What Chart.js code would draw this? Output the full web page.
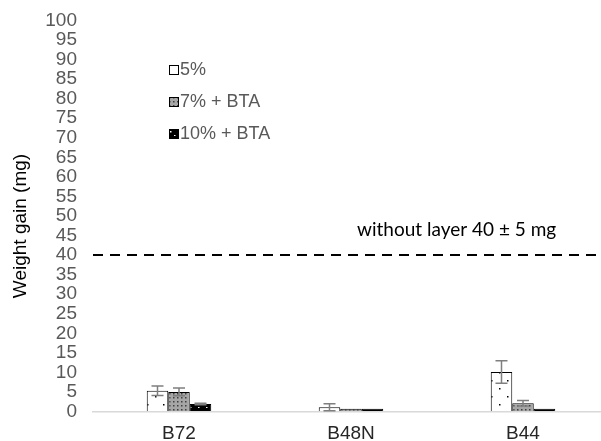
<!DOCTYPE html>
<html>
<head>
<meta charset="utf-8">
<script src="https://cdn.jsdelivr.net/npm/chart.js@4"></script>
<style>
  html, body { margin: 0; padding: 0; background: #fff; overflow: hidden; }
  #wrap { width: 601px; height: 441px; overflow: hidden; }
</style>
</head>
<body>
<!-- plot area runs a few px past the right edge in the original, so the canvas is a bit wider and clipped -->
<div id="wrap"><canvas id="myChart" width="609" height="441"></canvas></div>
<script>
const categories = ['B72', 'B48N', 'B44'];
const seriesNames = ['5%', '7% + BTA', '10% + BTA'];
const gain5 = [5.3, 1.1, 10.1];
const gain7 = [5.0, 0.7, 2.1];
const gain10 = [1.9, 0.7, 0.7];
const err5 = [1.2, 0.9, 2.9];
const err7 = [1.0, 0, 0.7];
const err10 = [0.2, 0, 0];
const referenceValue = 40;
const referenceLabel = 'without layer 40 \u00b1 5 mg';
const yTitle = 'Weight gain (mg)';

// small fill patterns like the original hatches
function makePattern(bg, dot, step, offsets) {
    const c = document.createElement('canvas');
    c.width = step; c.height = step;
    const g = c.getContext('2d');
    g.fillStyle = bg;
    g.fillRect(0, 0, step, step);
    g.fillStyle = dot;
    offsets.forEach(o => g.fillRect(o[0], o[1], 1.5, 1.5));
    return g.createPattern(c, 'repeat');
}
const pat5 = makePattern('#ffffff', '#000000', 16, [[3, 4], [11, 12]]);
const pat7 = makePattern('#a6a6a6', '#404040', 4, [[1, 1]]);
const pat10 = makePattern('#000000', '#ffffff', 8, [[2, 3], [6, 7]]);

const errors = [err5, err7, err10];

const errorBars = {
    id: 'errorBars',
    afterDatasetsDraw(chart) {
        const c = chart.ctx;
        const y = chart.scales.y;
        c.save();
        c.strokeStyle = '#7f7f7f';
        c.lineWidth = 1.5;
        chart.data.datasets.forEach((ds, i) => {
            const meta = chart.getDatasetMeta(i);
            meta.data.forEach((bar, j) => {
                const e = errors[i][j];
                if (!e) return;
                const v = ds.data[j];
                const top = y.getPixelForValue(v + e);
                const bot = y.getPixelForValue(v - e);
                c.beginPath();
                c.moveTo(bar.x, top); c.lineTo(bar.x, bot);
                c.moveTo(bar.x - 6, top); c.lineTo(bar.x + 6, top);
                c.moveTo(bar.x - 6, bot); c.lineTo(bar.x + 6, bot);
                c.stroke();
            });
        });
        c.restore();
    }
};

const referenceLine = {
    id: 'referenceLine',
    afterDatasetsDraw(chart) {
        const c = chart.ctx;
        const a = chart.chartArea;
        const yp = chart.scales.y.getPixelForValue(referenceValue);
        c.save();
        c.strokeStyle = '#000000';
        c.lineWidth = 2;
        c.setLineDash([10, 7]);
        c.beginPath();
        c.moveTo(a.left, yp);
        c.lineTo(a.right, yp);
        c.stroke();
        c.setLineDash([]);
        c.fillStyle = '#000000';
        c.font = '19px Lato, sans-serif';
        c.textBaseline = 'middle';
        c.fillText(referenceLabel, 357, yp - 25);
        c.restore();
    }
};

// legend + rotated axis title (title sits a bit below the plot middle in the original)
const extras = {
    id: 'extras',
    afterDraw(chart) {
        const c = chart.ctx;
        const pats = [pat5, pat7, pat10];
        c.save();
        c.font = '18px "Liberation Sans", Arial, sans-serif';
        c.textBaseline = 'middle';
        seriesNames.forEach((name, i) => {
            const yy = 70 + i * 32;
            c.fillStyle = pats[i];
            c.fillRect(169, yy - 4.5, 9, 9);
            c.strokeStyle = '#000000';
            c.lineWidth = 1;
            c.strokeRect(169.5, yy - 4.5, 9, 9);
            c.fillStyle = '#595959';
            c.fillText(name, 180, yy);
        });
        c.translate(21, 226);
        c.rotate(-Math.PI / 2);
        c.textAlign = 'center';
        c.fillStyle = '#000000';
        c.font = '19px "Liberation Sans", Arial, sans-serif';
        c.fillText(yTitle, 0, 0);
        c.restore();
    }
};

const ctx = document.querySelector('#myChart');
const myChart = new Chart(ctx, {
    type: 'bar',
    data: {
        labels: categories,
        datasets: [
            { label: seriesNames[0], data: gain5, backgroundColor: pat5, borderColor: '#000000', borderWidth: 1 },
            { label: seriesNames[1], data: gain7, backgroundColor: pat7, borderColor: '#000000', borderWidth: 1 },
            { label: seriesNames[2], data: gain10, backgroundColor: pat10, borderColor: '#000000', borderWidth: 1 }
        ]
    },
    options: {
        responsive: false,
        animation: false,
        layout: { padding: { top: 0, right: 0, left: 4, bottom: -15.6 } },
        plugins: {
            legend: { display: false },
            tooltip: { enabled: false }
        },
        datasets: {
            bar: { categoryPercentage: 0.375, barPercentage: 1 }
        },
        scales: {
            x: {
                grid: { display: false, drawTicks: false },
                border: { color: '#d9d9d9', width: 1.5 },
                ticks: {
                    color: '#262626',
                    padding: 14,
                    font: { family: '"Liberation Sans", Arial, sans-serif', size: 19, lineHeight: 0.9 }
                }
            },
            y: {
                min: 0,
                max: 100,
                grid: { display: true, drawOnChartArea: false, drawTicks: true, tickLength: 7, color: 'rgba(0,0,0,0)' },
                border: { display: false },
                afterFit: function (scale) { scale.width = 89; },
                ticks: {
                    stepSize: 5,
                    autoSkip: false,
                    padding: 9,
                    color: '#595959',
                    font: { family: '"Liberation Sans", Arial, sans-serif', size: 19 }
                }
            }
        }
    },
    plugins: [errorBars, referenceLine, extras]
});
</script>
</body>
</html>
